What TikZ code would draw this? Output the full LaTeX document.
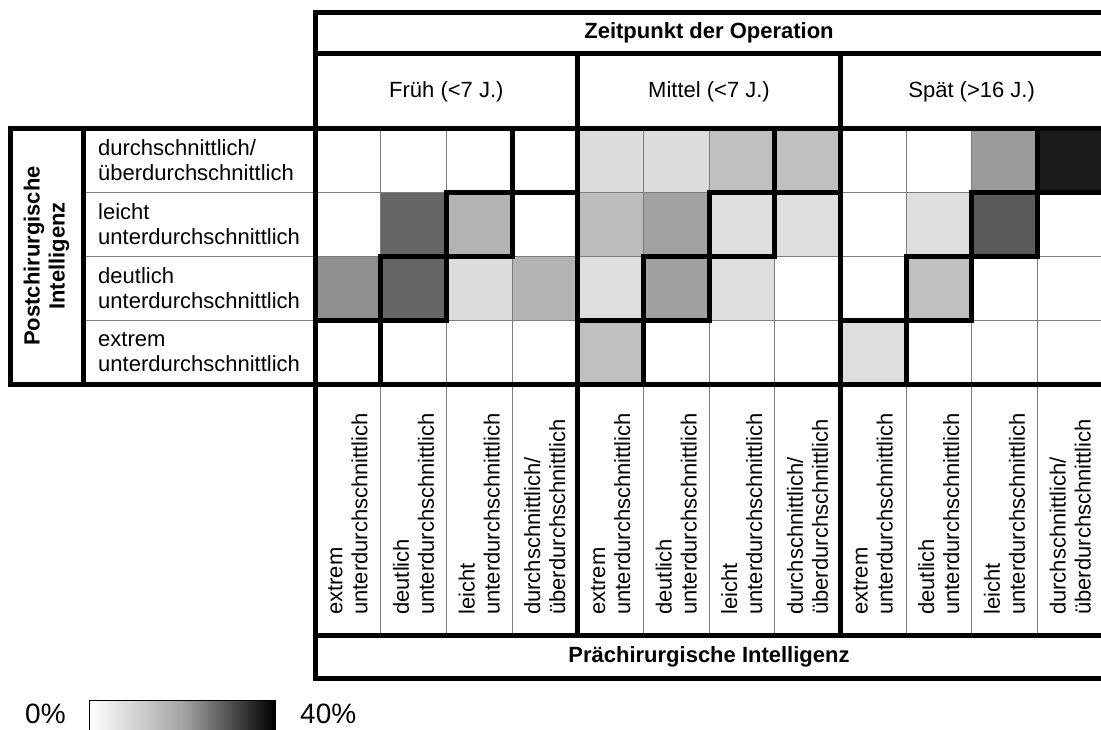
\documentclass[tikz,border=0pt]{standalone}
\usepackage{fontspec}
\setmainfont{Liberation Sans}
\begin{document}
\begin{tikzpicture}[x=1pt,y=-1pt,
  thin line/.style={line width=1pt, draw={rgb,255:red,125;green,125;blue,125}},
  thick line/.style={line width=5pt, draw=black, line cap=rect},
  diag box/.style={line width=5pt, draw=black},
  lbl/.style={font=\fontsize{22}{25}\selectfont, inner sep=0pt, align=left},
  hdr/.style={font=\fontsize{22}{25}\selectfont, inner sep=0pt, align=center},
  bhdr/.style={font=\fontsize{22}{25}\selectfont\bfseries, inner sep=0pt, align=center},
  leg/.style={font=\fontsize{28}{30}\selectfont, inner sep=0pt}]
\useasboundingbox (0,0) rectangle (1101,729);
\fill[white] (0,0) rectangle (1101,729);
\def\cw{65.667}
% cell fills
\foreach \c/\r/\v in {2/2/102, 3/2/179, 1/3/143, 2/3/102, 3/3/220, 4/3/179,
  5/1/220, 6/1/220, 7/1/192, 8/1/192,
  5/2/189, 6/2/162, 7/2/222, 8/2/222,
  5/3/222, 6/3/160, 7/3/222,
  5/4/192,
  11/1/154, 12/1/26,
  10/2/222, 11/2/90,
  10/3/192,
  9/4/222}
{ \fill[fill={rgb,255:red,\v;green,\v;blue,\v}] ({315+(\c-1)*\cw},{128+(\r-1)*64}) rectangle ++(\cw,64); }
% thin grid lines
\foreach \i in {1,2,3,5,6,7,9,10,11}
  \draw[thin line] ({315+\i*\cw},128) -- ({315+\i*\cw},635);
\foreach \j in {1,2,3}
  \draw[thin line] (83,{128+\j*64}) -- (1103,{128+\j*64});
% thick frame
\draw[thick line] (315,12) -- (1103,12);
\draw[thick line] (315,53) -- (1103,53);
\draw[thick line] (10,128) -- (1103,128);
\draw[thick line] (10,384) -- (1103,384);
\draw[thick line] (315,635) -- (1103,635);
\draw[thick line] (315,678) -- (1103,678);
\draw[thick line] (10,128) -- (10,384);
\draw[thick line] (83,128) -- (83,384);
\draw[thick line] (315,12) -- (315,678);
\draw[thick line] ({315+4*\cw},53) -- ({315+4*\cw},635);
\draw[thick line] ({315+8*\cw},53) -- ({315+8*\cw},635);
\draw[thick line] (1103,12) -- (1103,678);
% diagonal boxes
\foreach \b in {0,1,2}
  \foreach \k in {1,2,3,4}
    \draw[diag box] ({315+(4*\b+\k-1)*\cw},{128+(4-\k)*64}) rectangle ++(\cw,64);
% header texts
\node[bhdr] (zeit) at (709,33) {Zeitpunkt der Operation};
\node[hdr] (frueh) at ({315+2*\cw},92) {Früh (<7 J.)};
\node[hdr] (mittel) at ({315+6*\cw},92) {Mittel (<7 J.)};
\node[hdr] (spaet) at ({315+10*\cw},92) {Spät (>16 J.)};
\node[bhdr, rotate=90] (post) at (46.5,256) {Postchirurgische\\Intelligenz};
\node[bhdr] (prae) at (709,657) {Prächirurgische Intelligenz};
% row labels
\node[lbl, anchor=west] (r1) at (98,160) {durchschnittlich/\\überdurchschnittlich};
\node[lbl, anchor=west] (r2) at (98,224) {leicht\\unterdurchschnittlich};
\node[lbl, anchor=west] (r3) at (98,288) {deutlich\\unterdurchschnittlich};
\node[lbl, anchor=west] (r4) at (98,352) {extrem\\unterdurchschnittlich};
% column labels
\foreach \b in {0,1,2} {
  \node[lbl, rotate=90, anchor=west] (c\b a) at ({315+(4*\b+0.5)*\cw},615) {extrem\\unterdurchschnittlich};
  \node[lbl, rotate=90, anchor=west] (c\b b) at ({315+(4*\b+1.5)*\cw},615) {deutlich\\unterdurchschnittlich};
  \node[lbl, rotate=90, anchor=west] (c\b c) at ({315+(4*\b+2.5)*\cw},615) {leicht\\unterdurchschnittlich};
  \node[lbl, rotate=90, anchor=west] (c\b d) at ({315+(4*\b+3.5)*\cw},615) {durchschnittlich/\\überdurchschnittlich};
}
% legend
\shade[left color=white, right color=black, middle color={rgb,255:red,165;green,165;blue,165}] (89,700) rectangle (275,745);
\draw[line width=1pt, black] (89,700) rectangle (275,745);
\node[leg, anchor=base west] (l0) at (25,723) {0\%};
\node[leg, anchor=base west] (l40) at (300,723) {40\%};
\end{tikzpicture}
\end{document}
